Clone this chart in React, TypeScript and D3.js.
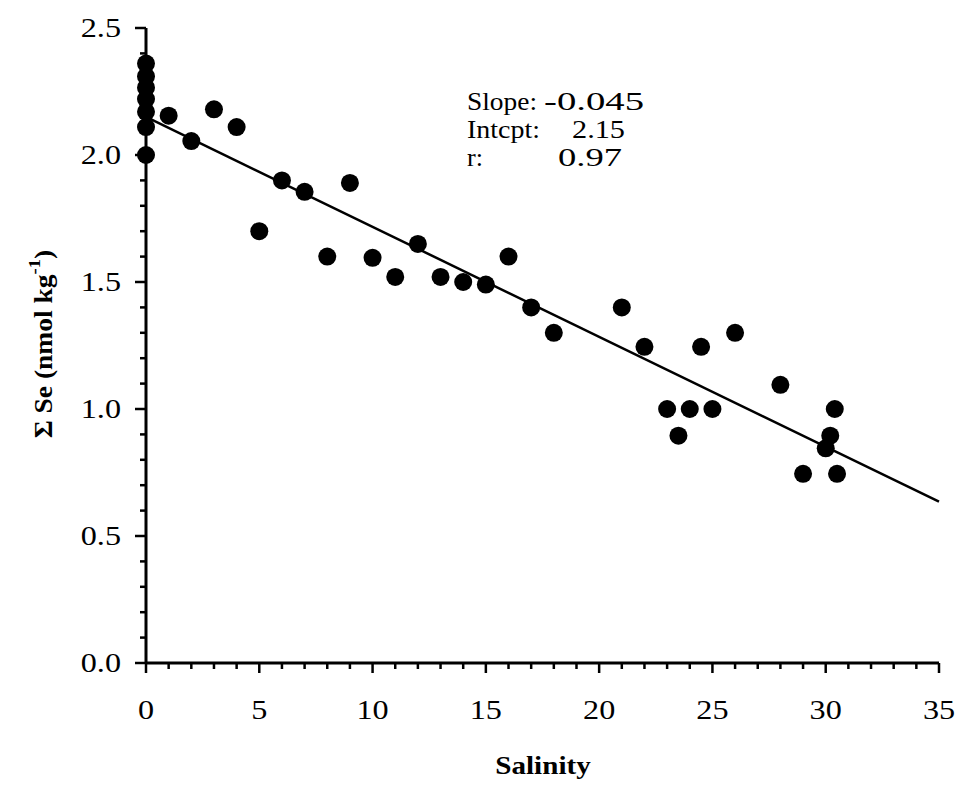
import React from "react";
import * as d3 from "d3";

// ---- data ----
const salinity = [
  0, 0, 0, 0, 0, 0, 0,
  1, 2, 3, 4, 5, 6, 7, 8, 9, 10, 11, 12, 13, 14, 15, 16, 17, 18,
  21, 22, 23, 23.5, 24, 24.5, 25, 26, 28, 29, 30, 30.2, 30.4, 30.5,
];
const sumSe = [
  2.36, 2.31, 2.265, 2.22, 2.17, 2.11, 2.0,
  2.155, 2.055, 2.18, 2.11, 1.7, 1.9, 1.855, 1.6, 1.89, 1.595, 1.52, 1.65, 1.52, 1.5, 1.49, 1.6, 1.4, 1.3,
  1.4, 1.245, 1.0, 0.895, 1.0, 1.245, 1.0, 1.3, 1.095, 0.745, 0.845, 0.895, 1.0, 0.745,
];
const fitX = [0, 35];
const fitY = [2.15, 0.635];
const xTicks = [0, 5, 10, 15, 20, 25, 30, 35];
const yTicks = [0, 0.5, 1.0, 1.5, 2.0, 2.5];
const statLabels = ["Slope:", "Intcpt:", "r:"];
const statValues = ["-0.045", "2.15", "0.97"];

const FONT = "'Liberation Serif', 'Times New Roman', serif";

export default function App() {
  const x = d3.scaleLinear().domain([0, 35]).range([146, 939]);
  const y = d3.scaleLinear().domain([0, 2.5]).range([663, 28]);
  const xMinor = d3.range(0, 36, 1);
  const yMinor = d3.range(0, 26, 1).map((v) => v / 10);
  const line = d3
    .line<number>()
    .x((_, i) => x(fitX[i]))
    .y((d) => y(d));
  const points = salinity.map((s, i) => ({ s, v: sumSe[i] }));

  const labelX = 467;
  const valueX = [544, 572, 558];
  const labelW = [70, 73, 16];
  const valueW = [100, 53, 64];
  const baseY = [110, 138, 166];

  return (
    <svg
      width={962}
      height={786}
      style={{ position: "absolute", left: 0, top: 0, background: "#fff" }}
      fontFamily={FONT}
    >
      <rect width={962} height={786} fill="#fff" />
      {/* axes */}
      <line x1={x(0)} x2={x(35)} y1={y(0)} y2={y(0)} stroke="#000" strokeWidth={3} />
      <line x1={x(0)} x2={x(0)} y1={y(0)} y2={y(2.5)} stroke="#000" strokeWidth={3} />
      {xMinor.map((t) => (
        <line
          key={"xm" + t}
          x1={x(t)}
          x2={x(t)}
          y1={y(0)}
          y2={y(0) + (t % 5 === 0 ? 10 : 6)}
          stroke="#000"
          strokeWidth={2.5}
        />
      ))}
      {yMinor.map((t) => (
        <line
          key={"ym" + t}
          x1={x(0)}
          x2={x(0) - (Math.round(t * 10) % 5 === 0 ? 11 : 6)}
          y1={y(t)}
          y2={y(t)}
          stroke="#000"
          strokeWidth={2.5}
        />
      ))}
      {xTicks.map((t) => (
        <text
          key={"xt" + t}
          transform={`translate(${x(t)},719) scale(1.15,1)`}
          textAnchor="middle"
          fontSize={28}
          fill="#000"
        >
          {t}
        </text>
      ))}
      {yTicks.map((t) => (
        <text
          key={"yt" + t}
          transform={`translate(121,${y(t) + 9}) scale(1.15,1)`}
          textAnchor="end"
          fontSize={28}
          fill="#000"
        >
          {t.toFixed(1)}
        </text>
      ))}
      {/* axis titles */}
      <text
        transform="translate(543,774) scale(1.12,1)"
        textAnchor="middle"
        fontSize={26}
        fontWeight="bold"
        fill="#000"
      >
        Salinity
      </text>
      <g transform="translate(52,344) rotate(-90) scale(1.1,1)">
        <text textAnchor="middle" fontSize={25} fontWeight="bold" fill="#000">
          Σ Se (nmol kg
          <tspan fontSize={17} dy={-12}>-1</tspan>
          <tspan dy={12}>)</tspan>
        </text>
      </g>
      {/* fit line */}
      <path d={line(fitY) || ""} fill="none" stroke="#000" strokeWidth={2.5} />
      {/* points */}
      {points.map((p, i) => (
        <circle key={"p" + i} cx={x(p.s)} cy={y(p.v)} r={9} fill="#000" />
      ))}
      {/* stats */}
      {statLabels.map((l, i) => (
        <g key={"st" + i}>
          <text
            x={labelX}
            y={baseY[i]}
            fontSize={26}
            fill="#000"
            textLength={labelW[i]}
            lengthAdjust="spacingAndGlyphs"
          >
            {l}
          </text>
          <text
            x={valueX[i]}
            y={baseY[i]}
            fontSize={26}
            fill="#000"
            textLength={valueW[i]}
            lengthAdjust="spacingAndGlyphs"
          >
            {statValues[i]}
          </text>
        </g>
      ))}
    </svg>
  );
}
